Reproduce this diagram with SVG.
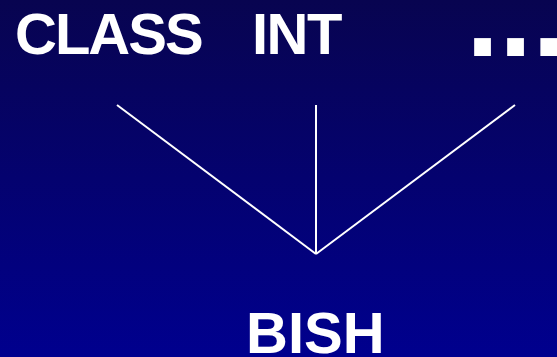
<svg xmlns="http://www.w3.org/2000/svg" width="557" height="357" viewBox="0 0 557 357">
<defs>
<linearGradient id="bg" x1="0" y1="0" x2="0" y2="1">
<stop offset="0" stop-color="#080450"/>
<stop offset="1" stop-color="#00008e"/>
</linearGradient>
<style>
.t{font-family:"Liberation Sans",Arial,sans-serif;font-weight:bold;font-size:58px;fill:#fff}
.d{font-family:"DejaVu Sans",sans-serif;font-weight:bold;font-size:95px;fill:#fff}
.c{stroke:#fff;stroke-width:2;fill:none}
</style>
</defs>
<rect width="557" height="357" fill="url(#bg)"/>
<g id="connectors">
<line class="c" x1="117" y1="105" x2="316" y2="254"/>
<line class="c" x1="316" y1="105" x2="316" y2="254"/>
<line class="c" x1="515" y1="105" x2="316" y2="254"/>
</g>
<g id="class"><text class="t" x="15" y="54" letter-spacing="-2">CLASS</text></g>
<g id="int"><text class="t" x="252" y="54" letter-spacing="-1.5">INT</text></g>
<g id="more"><text class="d" x="464.5" y="55.5" letter-spacing="-3">...</text></g>
<g id="bish"><text class="t" x="246" y="353">BISH</text></g>
</svg>
